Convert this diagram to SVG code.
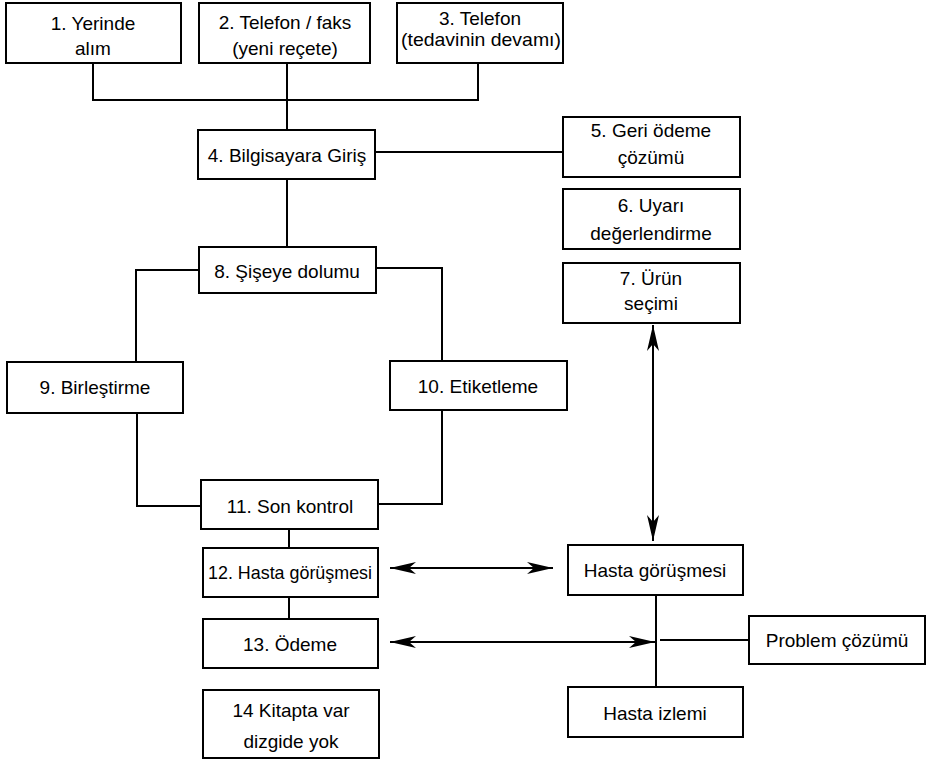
<svg xmlns="http://www.w3.org/2000/svg" width="927" height="762" viewBox="0 0 927 762">
<style>
rect{fill:#fff;stroke:#000;stroke-width:2}
text{font-family:"Liberation Sans",Arial,sans-serif;font-size:19px;fill:#000;text-anchor:middle}
.c path,.c line{fill:none;stroke:#000;stroke-width:2}
</style>
<defs>
<marker id="ah" viewBox="0 0 26 12" refX="26" refY="6" markerWidth="26" markerHeight="12" markerUnits="userSpaceOnUse" orient="auto-start-reverse">
<path d="M0,0 L26,6 L0,12 L7,6 Z" fill="#000"/>
</marker>
</defs>
<rect width="927" height="762" style="fill:#fff;stroke:none"/>
<g class="c" id="connectors">
<path d="M93,63 V100 H478 V63"/>
<line x1="287" y1="63" x2="287" y2="130"/>
<line x1="375" y1="152" x2="563" y2="152"/>
<line x1="287" y1="179" x2="287" y2="247"/>
<path d="M199,270 H136 V362"/>
<path d="M376,268 H442 V361"/>
<path d="M137,413 V506 H201"/>
<path d="M442,410 V504 H378"/>
<line x1="289" y1="529" x2="289" y2="548"/>
<line x1="289" y1="597" x2="289" y2="619"/>
<line x1="653" y1="325" x2="653" y2="541" marker-start="url(#ah)" marker-end="url(#ah)"/>
<line x1="390" y1="568" x2="553" y2="568" marker-start="url(#ah)" marker-end="url(#ah)"/>
<line x1="390" y1="642" x2="655" y2="642" marker-start="url(#ah)" marker-end="url(#ah)"/>
<line x1="656" y1="595" x2="656" y2="687"/>
<line x1="660" y1="640" x2="749" y2="640"/>
</g>
<g id="n1"><rect x="6" y="3" width="175" height="60"/><text x="93" y="30">1. Yerinde</text><text x="93" y="55">alım</text></g>
<g id="n2"><rect x="199" y="3" width="171" height="60"/><text x="285" y="29">2. Telefon / faks</text><text x="285" y="55">(yeni reçete)</text></g>
<g id="n3"><rect x="397" y="3" width="166" height="60"/><text x="480" y="25">3. Telefon</text><text x="481" y="46" textLength="160" lengthAdjust="spacingAndGlyphs">(tedavinin devamı)</text></g>
<g id="n4"><rect x="198" y="130" width="177" height="49"/><text x="287" y="162">4. Bilgisayara Giriş</text></g>
<g id="n5"><rect x="563" y="117" width="177" height="60"/><text x="651" y="137">5. Geri ödeme</text><text x="651" y="164">çözümü</text></g>
<g id="n6"><rect x="563" y="189" width="177" height="60"/><text x="651" y="212">6. Uyarı</text><text x="651" y="240">değerlendirme</text></g>
<g id="n7"><rect x="563" y="263" width="177" height="60"/><text x="651" y="285">7. Ürün</text><text x="651" y="310">seçimi</text></g>
<g id="n8"><rect x="199" y="247" width="177" height="46"/><text x="287" y="278">8. Şişeye dolumu</text></g>
<g id="n9"><rect x="7" y="362" width="176" height="51"/><text x="95" y="394">9. Birleştirme</text></g>
<g id="n10"><rect x="390" y="361" width="177" height="49"/><text x="478" y="393">10. Etiketleme</text></g>
<g id="n11"><rect x="201" y="480" width="177" height="49"/><text x="290" y="513">11. Son kontrol</text></g>
<g id="n12"><rect x="203" y="548" width="175" height="49"/><text x="290" y="579" textLength="164" lengthAdjust="spacingAndGlyphs">12. Hasta görüşmesi</text></g>
<g id="n13"><rect x="203" y="619" width="175" height="49"/><text x="290" y="651">13. Ödeme</text></g>
<g id="n14"><rect x="203" y="690" width="176" height="68"/><text x="291" y="717">14 Kitapta var</text><text x="291" y="748">dizgide yok</text></g>
<g id="n15"><rect x="568" y="545" width="175" height="50"/><text x="655" y="577">Hasta görüşmesi</text></g>
<g id="n16"><rect x="749" y="616" width="176" height="48"/><text x="837" y="647">Problem çözümü</text></g>
<g id="n17"><rect x="568" y="687" width="175" height="50"/><text x="655" y="720">Hasta izlemi</text></g>
</svg>
